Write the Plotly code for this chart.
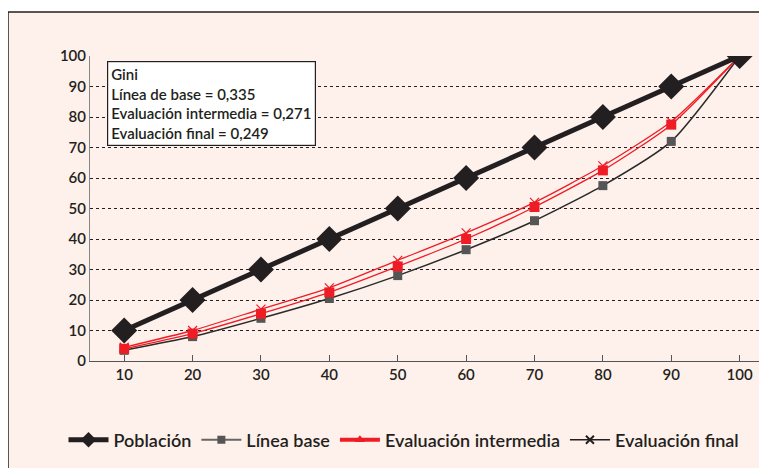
import plotly.graph_objects as go

categorias = ["10", "20", "30", "40", "50", "60", "70", "80", "90", "100"]
poblacion = [10, 20, 30, 40, 50, 60, 70, 80, 90, 100]
linea_base = [3.5, 8, 14, 20.5, 28, 36.5, 46, 57.5, 72, 100]
eval_intermedia = [4, 9, 15.5, 22.5, 31, 40, 50.5, 62.5, 77.5, 100]
eval_final = [4.5, 10, 17, 24, 33, 42, 52, 64, 78.5, 100]
y_ticks = [0, 10, 20, 30, 40, 50, 60, 70, 80, 90, 100]
gini_texto = ["Gini", "Línea de base = 0,335", "Evaluación intermedia = 0,271", "Evaluación final = 0,249"]

FONT = "Lato, Noto Sans, sans-serif"
TXT = "#231f20"
RED = "#ee1c25"
PINK = "#fef0eb"

OFF = 8  # page body margin
W, H = 767 - OFF, 468 - OFF
L, T = 90 - OFF, 56 - OFF
R = 0
B = H - (361 - OFF)
pw, ph = W - L - R, H - T - B

def px(xp):  # page x -> paper
    return (xp - OFF - L) / pw

def py(yp):  # page y -> paper
    return (H - B - (yp - OFF)) / ph

fig = go.Figure()

fig.add_trace(go.Scatter(x=categorias, y=linea_base, mode="lines+markers",
                         line=dict(color="#2a2a2a", width=1.5, shape="spline", smoothing=0.6),
                         marker=dict(symbol="square", size=9, color="#555555"),
                         showlegend=False))
fig.add_trace(go.Scatter(x=categorias, y=eval_final, mode="lines+markers",
                         line=dict(color=RED, width=1.3, shape="spline", smoothing=0.6),
                         marker=dict(symbol="x-thin", size=9, line=dict(color=RED, width=1.2)),
                         showlegend=False))
fig.add_trace(go.Scatter(x=categorias, y=eval_intermedia, mode="lines+markers",
                         line=dict(color=RED, width=1.3, shape="spline", smoothing=0.6),
                         marker=dict(symbol="square", size=10, color=RED),
                         showlegend=False))
fig.add_trace(go.Scatter(x=categorias, y=poblacion, mode="lines+markers",
                         line=dict(color="#231f20", width=5),
                         marker=dict(symbol="diamond", size=20, color="#231f20"),
                         showlegend=False))

fig.add_trace(go.Scatter(x=[None], y=[None], mode="lines+markers", name="Población",
                         line=dict(color="#231f20", width=5),
                         marker=dict(symbol="diamond", size=12, color="#231f20")))
fig.add_trace(go.Scatter(x=[None], y=[None], mode="lines+markers", name="Línea base",
                         line=dict(color="#666666", width=2),
                         marker=dict(symbol="square", size=8, color="#555555")))
fig.add_trace(go.Scatter(x=[None], y=[None], mode="lines+markers", name="Evaluación intermedia",
                         line=dict(color=RED, width=4),
                         marker=dict(symbol="triangle-up", size=9, color=RED)))
fig.add_trace(go.Scatter(x=[None], y=[None], mode="lines+markers", name="Evaluación final",
                         line=dict(color="#231f20", width=1.5),
                         marker=dict(symbol="x-thin", size=8, line=dict(color="#231f20", width=2))))

fig.add_shape(type="rect", xref="paper", yref="paper", layer="below",
              x0=px(8), x1=1.1, y0=py(490), y1=py(12),
              fillcolor=PINK, line=dict(color="#231f20", width=1.5))

fig.add_annotation(xref="paper", yref="paper",
                   x=px(107), y=py(61), xanchor="left", yanchor="top",
                   text="<br>".join(gini_texto), showarrow=False, align="left",
                   font=dict(family=FONT, size=15, color=TXT, weight=600),
                   bgcolor="white", bordercolor="#231f20", borderwidth=1.2, borderpad=3)

fig.update_layout(
    width=W, height=H,
    margin=dict(l=L, r=R, t=T, b=B),
    paper_bgcolor="white", plot_bgcolor="rgba(0,0,0,0)",
    font=dict(family=FONT, size=15, color=TXT, weight=600),
    legend=dict(orientation="h", x=px(404), xanchor="center",
                y=py(440), yanchor="middle",
                font=dict(family=FONT, size=18, color=TXT, weight=600), itemwidth=40,
                bgcolor="rgba(0,0,0,0)", tracegroupgap=0),
    xaxis=dict(type="category", range=[-0.5, 9.4], showgrid=False,
               showline=True, linecolor="#555555", linewidth=1.2,
               ticks="inside", ticklen=6, tickcolor="#555555",
               tickfont=dict(size=15, color=TXT, weight=600), zeroline=False, fixedrange=True),
    yaxis=dict(range=[0, 100], tickvals=y_ticks, showgrid=True,
               gridcolor="#231f20", griddash="dot", gridwidth=1,
               showline=True, linecolor="#888888", linewidth=1,
               tickfont=dict(size=15, color=TXT, weight=600), ticks="", ticklen=0,
               zeroline=False, fixedrange=True),
)
fig.update_yaxes(ticksuffix="   ")

fig.write_html("out.html")
